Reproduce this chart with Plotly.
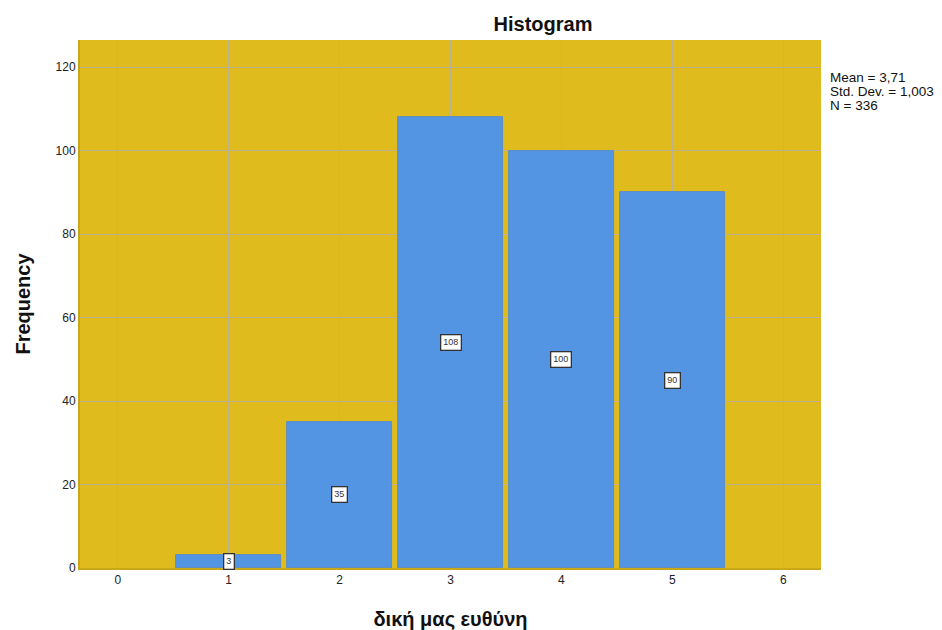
import plotly.graph_objects as go

# Histogram data
categories = [1, 2, 3, 4, 5]
frequencies = [3, 35, 108, 100, 90]
x_ticks = [0, 1, 2, 3, 4, 5, 6]
y_ticks = [0, 20, 40, 60, 80, 100, 120]
stats_lines = ["Mean = 3,71", "Std. Dev. = 1,003", "N = 336"]

BAR = "#5495E3"
BG = "#E0BB1E"
GRID = "#BDB08C"
FONT = "Liberation Sans, Arial, sans-serif"

fig = go.Figure()
fig.add_trace(go.Bar(
    x=categories, y=frequencies, width=0.95,
    marker=dict(color=BAR, line=dict(color="#4C88D0", width=0.8)),
    hoverinfo="x+y", showlegend=False,
))

# value boxes at half height of each bar
for c, f in zip(categories, frequencies):
    fig.add_annotation(
        x=c, y=f / 2, text=str(f), showarrow=False,
        font=dict(family=FONT, size=9, color="#333333"),
        bgcolor="white", bordercolor="#333333", borderwidth=1.3, borderpad=2,
    )

# summary statistics beside the plot, one line each with tight spacing
for i, line in enumerate(stats_lines):
    fig.add_annotation(
        xref="paper", yref="paper", x=1.010, y=0.9295 - i * 14 / 528,
        xanchor="left", yanchor="middle", text=line, align="left", showarrow=False,
        font=dict(family=FONT, size=13.5, color="#111111"),
    )

fig.update_layout(
    width=942, height=630,
    margin=dict(l=80, r=121, t=40, b=62, autoexpand=False),
    paper_bgcolor="white", plot_bgcolor=BG,
    title=dict(text="<b>Histogram</b>", x=543 / 942, xanchor="center", y=0.962, yanchor="middle",
               font=dict(family=FONT, size=20, color="#111111")),
    font=dict(family=FONT),
    xaxis=dict(
        range=[-0.34, 6.34], tickvals=x_ticks, ticktext=[str(t) for t in x_ticks],
        showgrid=True, gridcolor=GRID, gridwidth=1, zeroline=False,
        ticks="", tickfont=dict(family=FONT, size=12, color="#222222"),
        showline=True, linecolor="#C9A818", linewidth=2, automargin=False,
        title=dict(text="<b>δική μας ευθύνη</b>", font=dict(family=FONT, size=20, color="#111111"),
                   standoff=28),
    ),
    yaxis=dict(
        range=[0, 126.5], tickvals=y_ticks, ticktext=[str(t) for t in y_ticks],
        showgrid=True, gridcolor=GRID, gridwidth=1, zeroline=False,
        ticks="", tickfont=dict(family=FONT, size=12, color="#222222"),
        showline=True, linecolor="#C9A818", linewidth=2, automargin=False,
        title=dict(text="<b>Frequency</b>", font=dict(family=FONT, size=20, color="#111111"),
                   standoff=20),
    ),
    bargap=0,
)

fig.write_html("out.html")
